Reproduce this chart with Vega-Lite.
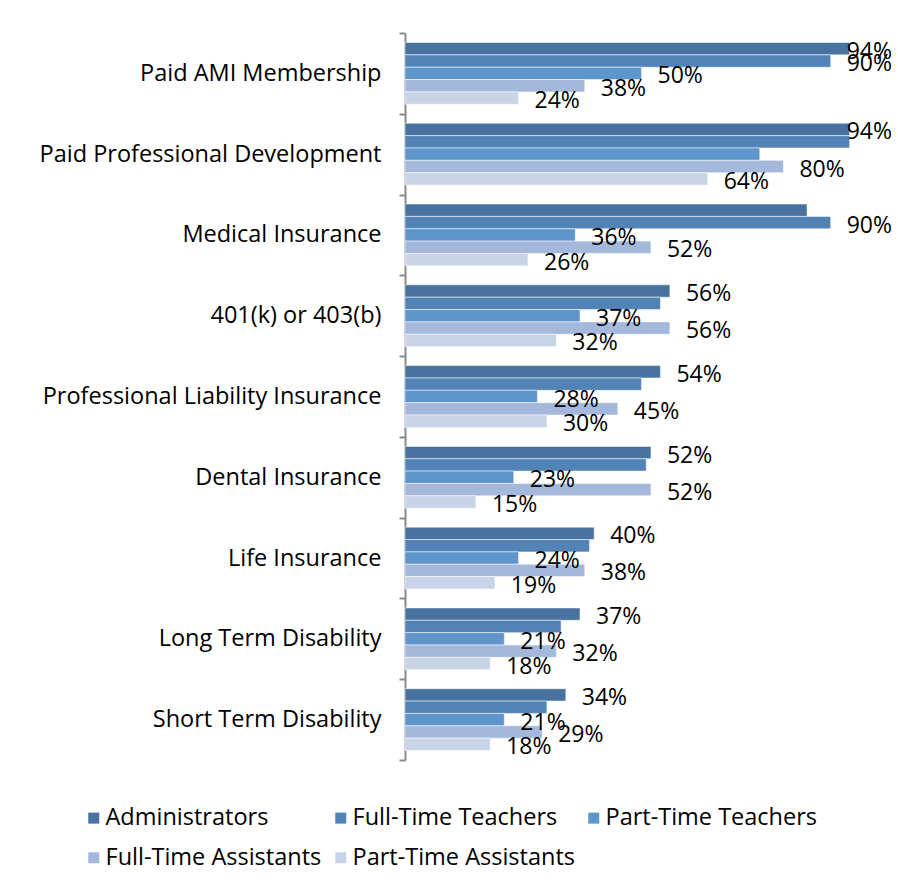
{
  "$schema": "https://vega.github.io/schema/vega-lite/v6.json",
  "width": 473,
  "height": 727,
  "autosize": {"type": "none"},
  "padding": {"left": 405, "top": 33, "right": 20, "bottom": 126},
  "background": "white",
  "config": {"view": {"stroke": null}, "font": "Open Sans"},
  "data": {
    "values": [
      {"category": "Paid AMI Membership", "group": "Administrators", "value": 0.94, "shown": true},
      {"category": "Paid AMI Membership", "group": "Full-Time Teachers", "value": 0.90, "shown": true},
      {"category": "Paid AMI Membership", "group": "Part-Time Teachers", "value": 0.50, "shown": true},
      {"category": "Paid AMI Membership", "group": "Full-Time Assistants", "value": 0.38, "shown": true},
      {"category": "Paid AMI Membership", "group": "Part-Time Assistants", "value": 0.24, "shown": true},
      {"category": "Paid Professional Development", "group": "Administrators", "value": 0.94, "shown": true},
      {"category": "Paid Professional Development", "group": "Full-Time Teachers", "value": 0.94, "shown": false},
      {"category": "Paid Professional Development", "group": "Part-Time Teachers", "value": 0.75, "shown": false},
      {"category": "Paid Professional Development", "group": "Full-Time Assistants", "value": 0.80, "shown": true},
      {"category": "Paid Professional Development", "group": "Part-Time Assistants", "value": 0.64, "shown": true},
      {"category": "Medical Insurance", "group": "Administrators", "value": 0.85, "shown": false},
      {"category": "Medical Insurance", "group": "Full-Time Teachers", "value": 0.90, "shown": true},
      {"category": "Medical Insurance", "group": "Part-Time Teachers", "value": 0.36, "shown": true},
      {"category": "Medical Insurance", "group": "Full-Time Assistants", "value": 0.52, "shown": true},
      {"category": "Medical Insurance", "group": "Part-Time Assistants", "value": 0.26, "shown": true},
      {"category": "401(k) or 403(b)", "group": "Administrators", "value": 0.56, "shown": true},
      {"category": "401(k) or 403(b)", "group": "Full-Time Teachers", "value": 0.54, "shown": false},
      {"category": "401(k) or 403(b)", "group": "Part-Time Teachers", "value": 0.37, "shown": true},
      {"category": "401(k) or 403(b)", "group": "Full-Time Assistants", "value": 0.56, "shown": true},
      {"category": "401(k) or 403(b)", "group": "Part-Time Assistants", "value": 0.32, "shown": true},
      {"category": "Professional Liability Insurance", "group": "Administrators", "value": 0.54, "shown": true},
      {"category": "Professional Liability Insurance", "group": "Full-Time Teachers", "value": 0.50, "shown": false},
      {"category": "Professional Liability Insurance", "group": "Part-Time Teachers", "value": 0.28, "shown": true},
      {"category": "Professional Liability Insurance", "group": "Full-Time Assistants", "value": 0.45, "shown": true},
      {"category": "Professional Liability Insurance", "group": "Part-Time Assistants", "value": 0.30, "shown": true},
      {"category": "Dental Insurance", "group": "Administrators", "value": 0.52, "shown": true},
      {"category": "Dental Insurance", "group": "Full-Time Teachers", "value": 0.51, "shown": false},
      {"category": "Dental Insurance", "group": "Part-Time Teachers", "value": 0.23, "shown": true},
      {"category": "Dental Insurance", "group": "Full-Time Assistants", "value": 0.52, "shown": true},
      {"category": "Dental Insurance", "group": "Part-Time Assistants", "value": 0.15, "shown": true},
      {"category": "Life Insurance", "group": "Administrators", "value": 0.40, "shown": true},
      {"category": "Life Insurance", "group": "Full-Time Teachers", "value": 0.39, "shown": false},
      {"category": "Life Insurance", "group": "Part-Time Teachers", "value": 0.24, "shown": true},
      {"category": "Life Insurance", "group": "Full-Time Assistants", "value": 0.38, "shown": true},
      {"category": "Life Insurance", "group": "Part-Time Assistants", "value": 0.19, "shown": true},
      {"category": "Long Term Disability", "group": "Administrators", "value": 0.37, "shown": true},
      {"category": "Long Term Disability", "group": "Full-Time Teachers", "value": 0.33, "shown": false},
      {"category": "Long Term Disability", "group": "Part-Time Teachers", "value": 0.21, "shown": true},
      {"category": "Long Term Disability", "group": "Full-Time Assistants", "value": 0.32, "shown": true},
      {"category": "Long Term Disability", "group": "Part-Time Assistants", "value": 0.18, "shown": true},
      {"category": "Short Term Disability", "group": "Administrators", "value": 0.34, "shown": true},
      {"category": "Short Term Disability", "group": "Full-Time Teachers", "value": 0.30, "shown": false},
      {"category": "Short Term Disability", "group": "Part-Time Teachers", "value": 0.21, "shown": true},
      {"category": "Short Term Disability", "group": "Full-Time Assistants", "value": 0.29, "shown": true},
      {"category": "Short Term Disability", "group": "Part-Time Assistants", "value": 0.18, "shown": true}
    ]
  },
  "encoding": {
    "y": {
      "field": "category",
      "type": "nominal",
      "sort": null,
      "title": null,
      "scale": {"paddingInner": 0, "paddingOuter": 0},
      "axis": {
        "tickBand": "extent",
        "domainColor": "#8a8a8a",
        "domainWidth": 2,
        "tickColor": "#8a8a8a",
        "tickWidth": 2,
        "tickSize": 6,
        "labelFontSize": 23.5,
        "labelColor": "#000000",
        "labelPadding": 18,
        "labelFont": "Open Sans",
        "labelLimit": 400
      }
    },
    "yOffset": {
      "field": "group",
      "type": "nominal",
      "sort": ["Administrators", "Full-Time Teachers", "Part-Time Teachers", "Full-Time Assistants", "Part-Time Assistants"],
      "scale": {"paddingInner": 0, "paddingOuter": 0.77}
    }
  },
  "layer": [
    {
      "mark": {"type": "bar", "stroke": "#ffffff", "strokeWidth": 1, "strokeOpacity": 0.5},
      "encoding": {
        "x": {"field": "value", "type": "quantitative", "scale": {"domain": [0, 1]}, "axis": null},
        "color": {
          "field": "group",
          "type": "nominal",
          "sort": ["Administrators", "Full-Time Teachers", "Part-Time Teachers", "Full-Time Assistants", "Part-Time Assistants"],
          "scale": {
            "domain": ["Administrators", "Full-Time Teachers", "Part-Time Teachers", "Full-Time Assistants", "Part-Time Assistants"],
            "range": ["#4873a0", "#5283b6", "#5e96cb", "#a3b8db", "#c8d3e7"]
          },
          "legend": {
            "title": null,
            "orient": "none",
            "legendX": -323,
            "legendY": 773,
            "direction": "horizontal",
            "columns": 3,
            "symbolType": "square",
            "symbolSize": 121,
            "symbolStrokeWidth": 0,
            "labelFontSize": 23.5,
            "labelFont": "Open Sans",
            "labelColor": "#000000",
            "labelOffset": 0,
            "labelLimit": 400,
            "columnPadding": 7,
            "rowPadding": 15,
            "padding": 0
          }
        }
      }
    },
    {
      "transform": [{"filter": "datum.shown"}],
      "mark": {"type": "text", "align": "left", "baseline": "middle", "dx": 16, "dy": 3, "fontSize": 23, "font": "Open Sans", "color": "#000000"},
      "encoding": {
        "x": {"field": "value", "type": "quantitative", "scale": {"domain": [0, 0.9], "range": [0, 425.7], "clamp": true}, "axis": null},
        "text": {"field": "value", "type": "quantitative", "format": ".0%"}
      }
    }
  ],
  "resolve": {"scale": {"x": "independent"}}
}
